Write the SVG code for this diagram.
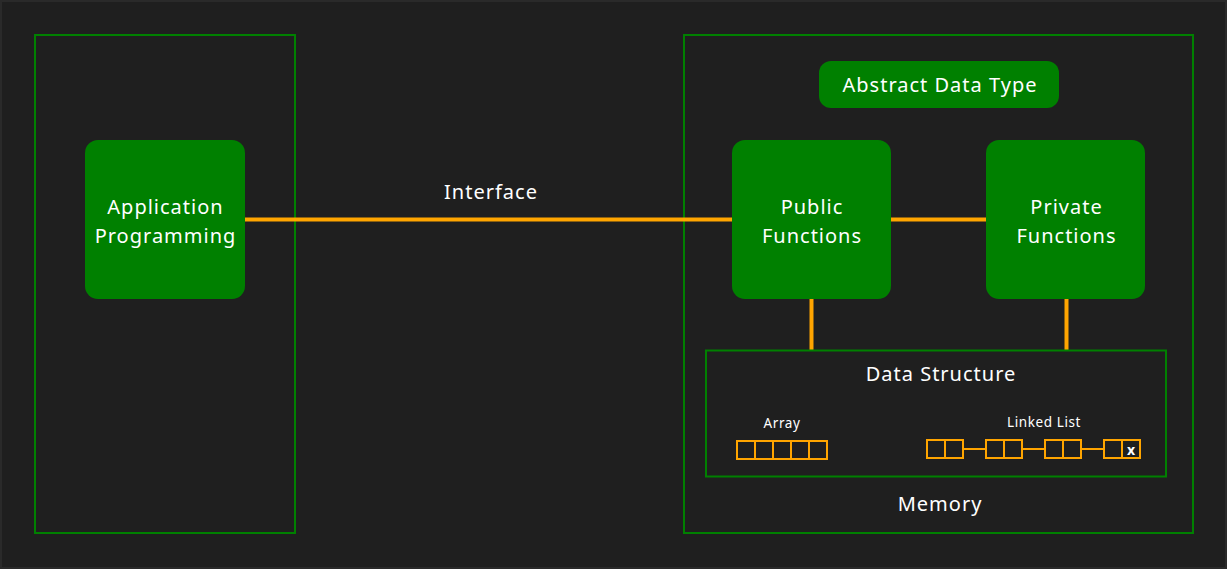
<svg xmlns="http://www.w3.org/2000/svg" width="1227" height="569" viewBox="0 0 1227 569">
<style>
.frame{fill:none;stroke:#008000;stroke-width:2}
.node{fill:#008000}
.lbl{font-family:"Noto Sans","Liberation Sans",sans-serif;fill:#ffffff;text-anchor:middle}
.big{font-size:20px;letter-spacing:1px}
.small{font-size:13.5px;letter-spacing:0.6px}
.wire{stroke:#ffa500;stroke-width:4;fill:none}
.cell{fill:none;stroke:#ffa500;stroke-width:2}
.thin{stroke:#ffa500;stroke-width:2}
</style>
<rect width="1227" height="569" fill="#2a2a2a"/>
<rect x="2" y="2" width="1223" height="565" fill="#1f1f1f"/>
<g id="client-frame"><rect class="frame" x="35" y="35" width="260" height="498"/></g>
<g id="adt-frame"><rect class="frame" x="684" y="35" width="509" height="498"/>
<text class="lbl big" x="940" y="511">Memory</text></g>
<g id="connectors">
<line class="wire" x1="245" y1="219.5" x2="732" y2="219.5"/>
<line class="wire" x1="891" y1="219.5" x2="986" y2="219.5"/>
<line class="wire" x1="811.5" y1="299" x2="811.5" y2="350"/>
<line class="wire" x1="1066.5" y1="299" x2="1066.5" y2="350"/>
</g>
<text class="lbl big" x="491" y="199">Interface</text>
<g id="app"><rect class="node" x="85" y="140" width="160" height="159" rx="13"/>
<text class="lbl big" x="165.5" y="214">Application</text>
<text class="lbl big" x="165.5" y="243">Programming</text></g>
<g id="adt-title"><rect class="node" x="819" y="61" width="240" height="47" rx="12"/>
<text class="lbl big" x="940" y="92">Abstract Data Type</text></g>
<g id="public"><rect class="node" x="732" y="140" width="159" height="159" rx="13"/>
<text class="lbl big" x="812" y="214">Public</text>
<text class="lbl big" x="812" y="243">Functions</text></g>
<g id="private"><rect class="node" x="986" y="140" width="159" height="159" rx="13"/>
<text class="lbl big" x="1066.5" y="214">Private</text>
<text class="lbl big" x="1066.5" y="243">Functions</text></g>
<g id="data-structure"><rect class="frame" x="706" y="350.5" width="460" height="126"/>
<text class="lbl big" x="941" y="381">Data Structure</text>
<text class="lbl small" x="782" y="428">Array</text>
<g id="array">
<rect class="cell" x="737" y="441" width="90" height="18"/>
<line class="thin" x1="755" y1="441" x2="755" y2="459"/>
<line class="thin" x1="773" y1="441" x2="773" y2="459"/>
<line class="thin" x1="791" y1="441" x2="791" y2="459"/>
<line class="thin" x1="809" y1="441" x2="809" y2="459"/>
</g>
<text class="lbl small" x="1044" y="427">Linked List</text>
<g id="linked-list">
<rect class="cell" x="927" y="440" width="36" height="18"/><line class="thin" x1="945" y1="440" x2="945" y2="458"/>
<line class="thin" x1="963" y1="449" x2="986" y2="449"/>
<rect class="cell" x="986" y="440" width="36" height="18"/><line class="thin" x1="1004" y1="440" x2="1004" y2="458"/>
<line class="thin" x1="1022" y1="449" x2="1045" y2="449"/>
<rect class="cell" x="1045" y="440" width="36" height="18"/><line class="thin" x1="1063" y1="440" x2="1063" y2="458"/>
<line class="thin" x1="1081" y1="449" x2="1104" y2="449"/>
<rect class="cell" x="1104" y="440" width="36" height="18"/><line class="thin" x1="1122" y1="440" x2="1122" y2="458"/>
<text class="lbl" x="1131" y="455" font-size="14" font-weight="bold">x</text>
</g>
</g>
</svg>
